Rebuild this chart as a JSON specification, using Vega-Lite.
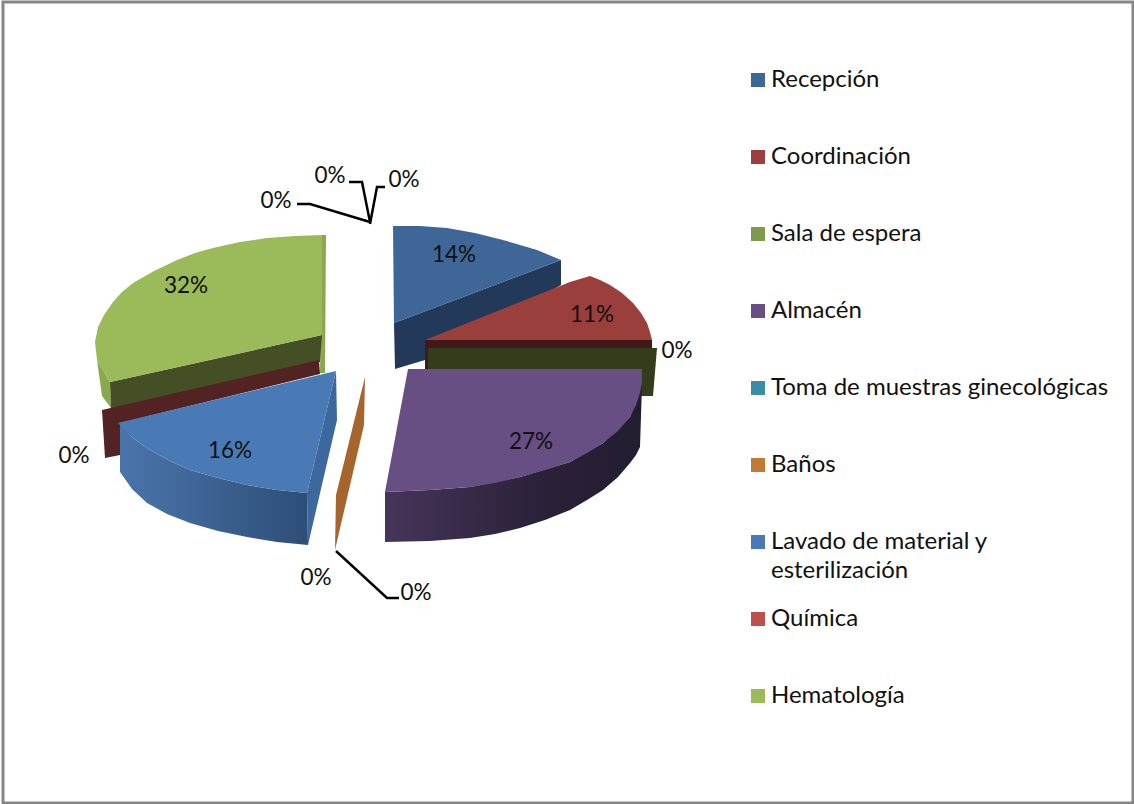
{
"$schema":"https://vega.github.io/schema/vega-lite/v6.json",
"width":1134,"height":804,
"autosize":{"type":"fit","contains":"padding"},
"padding":{"left":3,"top":2,"right":1,"bottom":1},
"background":"#ffffff",
"view":{"stroke":"#868686","strokeWidth":3,"fill":"#ffffff"},
"datasets":{
"laterales":[
{"pieza":"h1","cara":"Hematología lateral","n":1,"x":97,"y":360},{"pieza":"h1","cara":"Hematología lateral","n":2,"x":110,"y":382},{"pieza":"h1","cara":"Hematología lateral","n":3,"x":111,"y":408},{"pieza":"h1","cara":"Hematología lateral","n":4,"x":102,"y":396},
{"pieza":"h2","cara":"Hematología lateral","n":1,"x":322,"y":235},{"pieza":"h2","cara":"Hematología lateral","n":2,"x":326,"y":235},{"pieza":"h2","cara":"Hematología lateral","n":3,"x":325,"y":373},{"pieza":"h2","cara":"Hematología lateral","n":4,"x":320,"y":373},
{"pieza":"h3","cara":"Hematología corte","n":1,"x":110,"y":382},{"pieza":"h3","cara":"Hematología corte","n":2,"x":322,"y":335},{"pieza":"h3","cara":"Hematología corte","n":3,"x":320,"y":362},{"pieza":"h3","cara":"Hematología corte","n":4,"x":111,"y":409},
{"pieza":"q1","cara":"Química corte","n":1,"x":102,"y":410},{"pieza":"q1","cara":"Química corte","n":2,"x":319,"y":360},{"pieza":"q1","cara":"Química corte","n":3,"x":320,"y":374},{"pieza":"q1","cara":"Química corte","n":4,"x":120,"y":423},{"pieza":"q1","cara":"Química corte","n":5,"x":120,"y":455},{"pieza":"q1","cara":"Química corte","n":6,"x":105,"y":458},
{"pieza":"l1","cara":"Lavado corte","n":1,"x":336,"y":371},{"pieza":"l1","cara":"Lavado corte","n":2,"x":307,"y":493},{"pieza":"l1","cara":"Lavado corte","n":3,"x":308,"y":545},{"pieza":"l1","cara":"Lavado corte","n":4,"x":337,"y":420},
{"pieza":"b1","cara":"Baños corte","n":1,"x":365,"y":377},{"pieza":"b1","cara":"Baños corte","n":2,"x":364,"y":425},{"pieza":"b1","cara":"Baños corte","n":3,"x":335,"y":550},{"pieza":"b1","cara":"Baños corte","n":4,"x":336,"y":495},
{"pieza":"r1","cara":"Recepción corte","n":1,"x":394,"y":323},{"pieza":"r1","cara":"Recepción corte","n":2,"x":561,"y":260},{"pieza":"r1","cara":"Recepción corte","n":3,"x":561,"y":285},{"pieza":"r1","cara":"Recepción corte","n":4,"x":425,"y":360},{"pieza":"r1","cara":"Recepción corte","n":5,"x":395,"y":369},
{"pieza":"c1","cara":"Coordinación corte","n":1,"x":425,"y":340},{"pieza":"c1","cara":"Coordinación corte","n":2,"x":652,"y":340},{"pieza":"c1","cara":"Coordinación corte","n":3,"x":652,"y":348},{"pieza":"c1","cara":"Coordinación corte","n":4,"x":428,"y":348},{"pieza":"c1","cara":"Coordinación corte","n":5,"x":428,"y":369},{"pieza":"c1","cara":"Coordinación corte","n":6,"x":425,"y":369},
{"pieza":"s1","cara":"Sala corte","n":1,"x":428,"y":348},{"pieza":"s1","cara":"Sala corte","n":2,"x":657,"y":348},{"pieza":"s1","cara":"Sala corte","n":3,"x":653,"y":396},{"pieza":"s1","cara":"Sala corte","n":4,"x":640,"y":396},{"pieza":"s1","cara":"Sala corte","n":5,"x":428,"y":369}
],
"curvas":[
{"pieza":"Lavado","n":1,"x":120,"y":423},{"pieza":"Lavado","n":2,"x":133,"y":438},{"pieza":"Lavado","n":3,"x":150,"y":450},{"pieza":"Lavado","n":4,"x":170,"y":461},{"pieza":"Lavado","n":5,"x":190,"y":470},{"pieza":"Lavado","n":6,"x":218,"y":478},{"pieza":"Lavado","n":7,"x":247,"y":485},{"pieza":"Lavado","n":8,"x":277,"y":490},{"pieza":"Lavado","n":9,"x":307,"y":493},{"pieza":"Lavado","n":10,"x":308,"y":545},{"pieza":"Lavado","n":11,"x":277,"y":542},{"pieza":"Lavado","n":12,"x":247,"y":537},{"pieza":"Lavado","n":13,"x":218,"y":531},{"pieza":"Lavado","n":14,"x":190,"y":523},{"pieza":"Lavado","n":15,"x":167,"y":514},{"pieza":"Lavado","n":16,"x":147,"y":503},{"pieza":"Lavado","n":17,"x":132,"y":489},{"pieza":"Lavado","n":18,"x":120,"y":472},
{"pieza":"Almacén","n":1,"x":385,"y":492},{"pieza":"Almacén","n":2,"x":430,"y":490},{"pieza":"Almacén","n":3,"x":470,"y":487},{"pieza":"Almacén","n":4,"x":520,"y":477},{"pieza":"Almacén","n":5,"x":570,"y":462},{"pieza":"Almacén","n":6,"x":603,"y":443},{"pieza":"Almacén","n":7,"x":630,"y":417},{"pieza":"Almacén","n":8,"x":642,"y":385},{"pieza":"Almacén","n":9,"x":640,"y":447},{"pieza":"Almacén","n":10,"x":636,"y":455},{"pieza":"Almacén","n":11,"x":630,"y":463},{"pieza":"Almacén","n":12,"x":618,"y":477},{"pieza":"Almacén","n":13,"x":603,"y":490},{"pieza":"Almacén","n":14,"x":587,"y":500},{"pieza":"Almacén","n":15,"x":570,"y":510},{"pieza":"Almacén","n":16,"x":545,"y":520},{"pieza":"Almacén","n":17,"x":520,"y":528},{"pieza":"Almacén","n":18,"x":495,"y":534},{"pieza":"Almacén","n":19,"x":470,"y":538},{"pieza":"Almacén","n":20,"x":430,"y":541},{"pieza":"Almacén","n":21,"x":385,"y":542}
],
"superiores":[
{"segmento":"Hematología","n":1,"x":322,"y":235},{"segmento":"Hematología","n":2,"x":295,"y":236},{"segmento":"Hematología","n":3,"x":267,"y":238},{"segmento":"Hematología","n":4,"x":240,"y":242},{"segmento":"Hematología","n":5,"x":213,"y":248},{"segmento":"Hematología","n":6,"x":195,"y":253},{"segmento":"Hematología","n":7,"x":177,"y":260},{"segmento":"Hematología","n":8,"x":154,"y":271},{"segmento":"Hematología","n":9,"x":133,"y":283},{"segmento":"Hematología","n":10,"x":122,"y":292},{"segmento":"Hematología","n":11,"x":113,"y":302},{"segmento":"Hematología","n":12,"x":104,"y":315},{"segmento":"Hematología","n":13,"x":98,"y":327},{"segmento":"Hematología","n":14,"x":95,"y":342},{"segmento":"Hematología","n":15,"x":97,"y":360},{"segmento":"Hematología","n":16,"x":110,"y":382},{"segmento":"Hematología","n":17,"x":322,"y":335},
{"segmento":"Lavado de material y esterilización","n":1,"x":118,"y":423},{"segmento":"Lavado de material y esterilización","n":2,"x":336,"y":371},{"segmento":"Lavado de material y esterilización","n":3,"x":307,"y":493},{"segmento":"Lavado de material y esterilización","n":4,"x":277,"y":490},{"segmento":"Lavado de material y esterilización","n":5,"x":247,"y":485},{"segmento":"Lavado de material y esterilización","n":6,"x":218,"y":478},{"segmento":"Lavado de material y esterilización","n":7,"x":190,"y":470},{"segmento":"Lavado de material y esterilización","n":8,"x":170,"y":461},{"segmento":"Lavado de material y esterilización","n":9,"x":150,"y":450},{"segmento":"Lavado de material y esterilización","n":10,"x":133,"y":438},
{"segmento":"Recepción","n":1,"x":393,"y":226},{"segmento":"Recepción","n":2,"x":420,"y":226},{"segmento":"Recepción","n":3,"x":447,"y":228},{"segmento":"Recepción","n":4,"x":475,"y":233},{"segmento":"Recepción","n":5,"x":503,"y":240},{"segmento":"Recepción","n":6,"x":520,"y":245},{"segmento":"Recepción","n":7,"x":537,"y":250},{"segmento":"Recepción","n":8,"x":561,"y":260},{"segmento":"Recepción","n":9,"x":394,"y":323},
{"segmento":"Coordinación","n":1,"x":425,"y":340},{"segmento":"Coordinación","n":2,"x":570,"y":282},{"segmento":"Coordinación","n":3,"x":590,"y":276},{"segmento":"Coordinación","n":4,"x":600,"y":280},{"segmento":"Coordinación","n":5,"x":610,"y":285},{"segmento":"Coordinación","n":6,"x":622,"y":293},{"segmento":"Coordinación","n":7,"x":633,"y":303},{"segmento":"Coordinación","n":8,"x":641,"y":313},{"segmento":"Coordinación","n":9,"x":647,"y":323},{"segmento":"Coordinación","n":10,"x":650,"y":332},{"segmento":"Coordinación","n":11,"x":652,"y":340},
{"segmento":"Almacén","n":1,"x":408,"y":369},{"segmento":"Almacén","n":2,"x":642,"y":369},{"segmento":"Almacén","n":3,"x":642,"y":382},{"segmento":"Almacén","n":4,"x":640,"y":393},{"segmento":"Almacén","n":5,"x":636,"y":405},{"segmento":"Almacén","n":6,"x":630,"y":417},{"segmento":"Almacén","n":7,"x":618,"y":431},{"segmento":"Almacén","n":8,"x":603,"y":443},{"segmento":"Almacén","n":9,"x":587,"y":453},{"segmento":"Almacén","n":10,"x":570,"y":462},{"segmento":"Almacén","n":11,"x":545,"y":470},{"segmento":"Almacén","n":12,"x":520,"y":477},{"segmento":"Almacén","n":13,"x":495,"y":483},{"segmento":"Almacén","n":14,"x":470,"y":487},{"segmento":"Almacén","n":15,"x":430,"y":490},{"segmento":"Almacén","n":16,"x":385,"y":492}
],
"guias":[
{"guia":"a","n":1,"x":297,"y":204},{"guia":"a","n":2,"x":310,"y":204},{"guia":"a","n":3,"x":370,"y":222},
{"guia":"b","n":1,"x":349,"y":182},{"guia":"b","n":2,"x":362,"y":182},{"guia":"b","n":3,"x":370,"y":222},
{"guia":"c","n":1,"x":385,"y":187},{"guia":"c","n":2,"x":377,"y":187},{"guia":"c","n":3,"x":370,"y":224},
{"guia":"d","n":1,"x":336,"y":551},{"guia":"d","n":2,"x":387,"y":598},{"guia":"d","n":3,"x":399,"y":598}
],
"etiquetas":[
{"segmento":"Recepción","valor":0.14,"x":454,"y":254},
{"segmento":"Coordinación","valor":0.11,"x":592,"y":314},
{"segmento":"Sala de espera","valor":0,"x":677,"y":350},
{"segmento":"Almacén","valor":0.27,"x":531,"y":441},
{"segmento":"Toma de muestras ginecológicas","valor":0,"x":416,"y":592},
{"segmento":"Baños","valor":0,"x":316,"y":577},
{"segmento":"Lavado de material y esterilización","valor":0.16,"x":230,"y":450},
{"segmento":"Química","valor":0,"x":74,"y":455},
{"segmento":"Hematología","valor":0.32,"x":186,"y":285},
{"segmento":"Otro 1","valor":0,"x":276,"y":200},
{"segmento":"Otro 2","valor":0,"x":330,"y":175},
{"segmento":"Otro 3","valor":0,"x":404,"y":179}
],
"continuacion":[{"texto":"esterilización","x":771,"y":571}]
},
"encoding":{
"x":{"field":"x","type":"quantitative","scale":{"domain":[3,1133]},"axis":null},
"y":{"field":"y","type":"quantitative","scale":{"domain":[803,2]},"axis":null}
},
"layer":[
{"data":{"name":"laterales"},
"mark":{"type":"line","filled":true,"strokeWidth":0,"interpolate":"linear-closed"},
"encoding":{"detail":{"field":"pieza"},"order":{"field":"n","type":"quantitative"},
"color":{"field":"cara","type":"nominal","legend":null,"scale":{"domain":["Hematología lateral","Hematología corte","Química corte","Lavado corte","Baños corte","Recepción corte","Coordinación corte","Sala corte"],"range":["#8aa84e","#444f26","#532222","#3d689d","#a5652d","#22395a","#401a18","#333c1b"]}}}},
{"data":{"name":"curvas"},"transform":[{"filter":"datum.pieza=='Lavado'"}],
"mark":{"type":"line","filled":true,"strokeWidth":0,"interpolate":"linear-closed","fill":{"gradient":"linear","x1":0,"y1":0,"x2":1,"y2":0,"stops":[{"offset":0,"color":"#4a75ab"},{"offset":1,"color":"#2d4e77"}]}},
"encoding":{"order":{"field":"n","type":"quantitative"}}},
{"data":{"name":"curvas"},"transform":[{"filter":"datum.pieza=='Almacén'"}],
"mark":{"type":"line","filled":true,"strokeWidth":0,"interpolate":"linear-closed","fill":{"gradient":"linear","x1":0,"y1":0,"x2":1,"y2":0,"stops":[{"offset":0,"color":"#45355a"},{"offset":0.6,"color":"#2b2139"},{"offset":1,"color":"#241c30"}]}},
"encoding":{"order":{"field":"n","type":"quantitative"}}},
{"data":{"name":"superiores"},
"mark":{"type":"line","filled":true,"strokeWidth":0,"interpolate":"linear-closed"},
"encoding":{"order":{"field":"n","type":"quantitative"},
"fill":{"field":"segmento","type":"nominal","sort":null,
"scale":{"domain":["Recepción","Coordinación","Sala de espera","Almacén","Toma de muestras ginecológicas","Baños","Lavado de material y esterilización","Química","Hematología"],
"range":["#3e6797","#9b3f3c","#7e9a4b","#674e83","#3a8da6","#c27a35","#4a7ab5","#bd4f4c","#9bba59"]},
"legend":{"title":null,"orient":"none","legendX":743,"legendY":66,"symbolType":"square","symbolSize":196,"symbolStrokeWidth":0,"rowPadding":53,"labelFont":"Lato","labelFontSize":24,"labelColor":"#111111","labelOffset":1,"labelLimit":400,
"labelExpr":"datum.label=='Recepción'?'\u2005Recepción':datum.label=='Lavado de material y esterilización'?'Lavado de material y':datum.label"}}}},
{"data":{"name":"guias"},
"mark":{"type":"line","color":"#000000","strokeWidth":2.5},
"encoding":{"detail":{"field":"guia"},"order":{"field":"n","type":"quantitative"}}},
{"data":{"name":"etiquetas"},
"mark":{"type":"text","font":"Lato","fontSize":22.5,"color":"#111111","dy":1},
"encoding":{"text":{"field":"valor","type":"quantitative","format":".0%"}}},
{"data":{"name":"continuacion"},
"mark":{"type":"text","font":"Lato","fontSize":24,"color":"#111111","align":"left"},
"encoding":{"text":{"field":"texto","type":"nominal"}}}
]
}
